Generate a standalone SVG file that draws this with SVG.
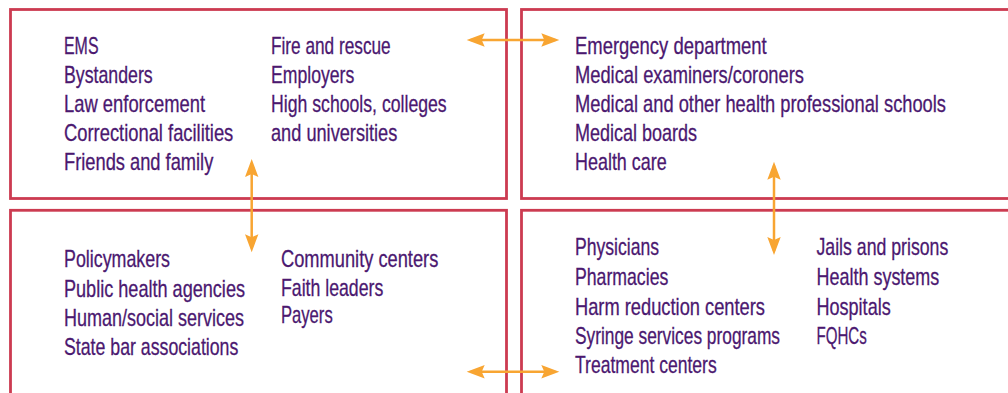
<svg xmlns="http://www.w3.org/2000/svg" width="1008" height="393" viewBox="0 0 1008 393">
<style>
.box{fill:#ffffff;stroke:#cc3b51;stroke-width:2.8}
.t{font-family:"Liberation Sans",Arial,sans-serif;font-size:24px;fill:#4b1870;stroke:#4b1870;stroke-width:0.3}
.arr{stroke:#f8a532;stroke-width:2.5;fill:none}
</style>
<defs>
<marker id="ah" markerUnits="userSpaceOnUse" viewBox="0 -7 18 14" markerWidth="18" markerHeight="14" refX="14" refY="0" orient="auto-start-reverse" overflow="visible">
<path d="M0,-6.7 L18,0 L0,6.7 L3,0 Z" fill="#f8a532"/>
</marker>
</defs>
<rect width="1008" height="393" fill="#ffffff"/>
<g id="node-community">
<rect class="box" x="10.5" y="9.5" width="496" height="189"/>
<text class="t" x="64" y="53.5" textLength="34.5" lengthAdjust="spacingAndGlyphs">EMS</text>
<text class="t" x="64" y="82.5" textLength="88.7" lengthAdjust="spacingAndGlyphs">Bystanders</text>
<text class="t" x="64" y="111.7" textLength="141" lengthAdjust="spacingAndGlyphs">Law enforcement</text>
<text class="t" x="64" y="141" textLength="169.3" lengthAdjust="spacingAndGlyphs">Correctional facilities</text>
<text class="t" x="64" y="170" textLength="149.3" lengthAdjust="spacingAndGlyphs">Friends and family</text>
<text class="t" x="271" y="53.5" textLength="119.7" lengthAdjust="spacingAndGlyphs">Fire and rescue</text>
<text class="t" x="271" y="82.5" textLength="83.3" lengthAdjust="spacingAndGlyphs">Employers</text>
<text class="t" x="271" y="111.7" textLength="175.7" lengthAdjust="spacingAndGlyphs">High schools, colleges</text>
<text class="t" x="271" y="141" textLength="126.3" lengthAdjust="spacingAndGlyphs">and universities</text>
</g>
<g id="node-health">
<rect class="box" x="521.5" y="9.5" width="520" height="189"/>
<text class="t" x="575" y="53.5" textLength="191.7" lengthAdjust="spacingAndGlyphs">Emergency department</text>
<text class="t" x="575" y="82.5" textLength="229" lengthAdjust="spacingAndGlyphs">Medical examiners/coroners</text>
<text class="t" x="575" y="111.7" textLength="371" lengthAdjust="spacingAndGlyphs">Medical and other health professional schools</text>
<text class="t" x="575" y="141" textLength="122" lengthAdjust="spacingAndGlyphs">Medical boards</text>
<text class="t" x="575" y="170" textLength="91.7" lengthAdjust="spacingAndGlyphs">Health care</text>
</g>
<g id="node-policy">
<rect class="box" x="10.5" y="210.3" width="496" height="220"/>
<text class="t" x="64" y="267.3" textLength="106" lengthAdjust="spacingAndGlyphs">Policymakers</text>
<text class="t" x="64" y="296.7" textLength="181" lengthAdjust="spacingAndGlyphs">Public health agencies</text>
<text class="t" x="64" y="326" textLength="180" lengthAdjust="spacingAndGlyphs">Human/social services</text>
<text class="t" x="64" y="355" textLength="174.3" lengthAdjust="spacingAndGlyphs">State bar associations</text>
<text class="t" x="281" y="267.3" textLength="157.3" lengthAdjust="spacingAndGlyphs">Community centers</text>
<text class="t" x="281" y="295.5" textLength="102.3" lengthAdjust="spacingAndGlyphs">Faith leaders</text>
<text class="t" x="281" y="323" textLength="51.7" lengthAdjust="spacingAndGlyphs">Payers</text>
</g>
<g id="node-providers">
<rect class="box" x="521.5" y="210.3" width="520" height="220"/>
<text class="t" x="575" y="255" textLength="84" lengthAdjust="spacingAndGlyphs">Physicians</text>
<text class="t" x="575" y="285" textLength="93.3" lengthAdjust="spacingAndGlyphs">Pharmacies</text>
<text class="t" x="575" y="314.5" textLength="190" lengthAdjust="spacingAndGlyphs">Harm reduction centers</text>
<text class="t" x="575" y="343.5" textLength="205" lengthAdjust="spacingAndGlyphs">Syringe services programs</text>
<text class="t" x="575" y="373" textLength="141.7" lengthAdjust="spacingAndGlyphs">Treatment centers</text>
<text class="t" x="816.5" y="255" textLength="131.8" lengthAdjust="spacingAndGlyphs">Jails and prisons</text>
<text class="t" x="816.5" y="285" textLength="122.8" lengthAdjust="spacingAndGlyphs">Health systems</text>
<text class="t" x="816.5" y="314.5" textLength="74.2" lengthAdjust="spacingAndGlyphs">Hospitals</text>
<text class="t" x="816.5" y="343.5" textLength="50.2" lengthAdjust="spacingAndGlyphs">FQHCs</text>
</g>
<g id="connectors">
<line class="arr" x1="470.7" y1="40" x2="555.3" y2="40" marker-start="url(#ah)" marker-end="url(#ah)"/>
<line class="arr" x1="251.7" y1="163" x2="251.7" y2="248.3" marker-start="url(#ah)" marker-end="url(#ah)"/>
<line class="arr" x1="774" y1="165.7" x2="774" y2="251" marker-start="url(#ah)" marker-end="url(#ah)"/>
<line class="arr" x1="470.7" y1="371.7" x2="555.3" y2="371.7" marker-start="url(#ah)" marker-end="url(#ah)"/>
</g>
</svg>
